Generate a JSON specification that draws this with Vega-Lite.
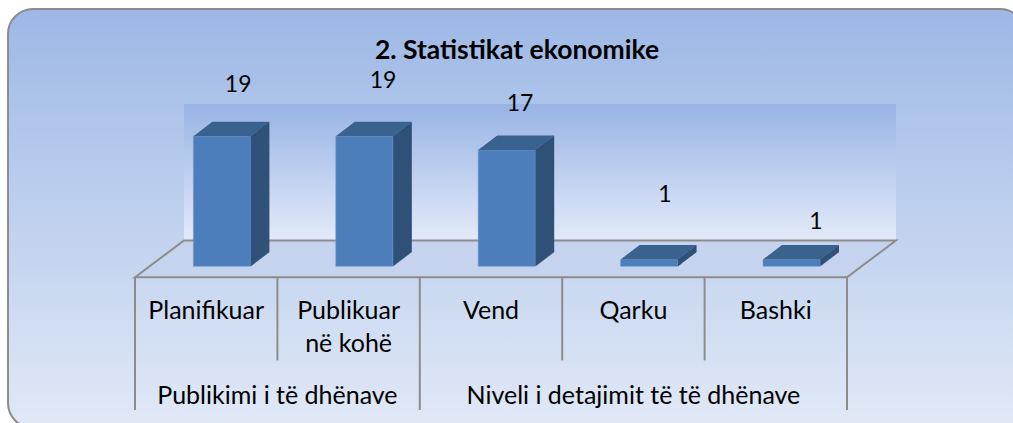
{"$schema":"https://vega.github.io/schema/vega-lite/v6.json","width":1017,"height":419,"padding":{"left":8,"top":9,"right":-12,"bottom":-5},"autosize":"none","background":"white","title":{"text":"2. Statistikat ekonomike","anchor":"middle","offset":-55,"dx":0.5,"font":"Lato","fontSize":26.5,"fontWeight":"bold","color":"#000000"},"view":{"cornerRadius":25,"stroke":"#8c8c8c","strokeWidth":2,"fill":{"gradient":"linear","x1":0,"y1":0,"x2":0,"y2":1,"stops":[{"offset":0,"color":"#9db8e6"},{"offset":1,"color":"#e1e9f6"}]}},"datasets":{"bars":[{"cat":"Planifikuar","value":19,"group":"Publikimi i të dhënave"},{"cat":"Publikuar\nnë kohë","value":19,"group":"Publikimi i të dhënave"},{"cat":"Vend","value":17,"group":"Niveli  i detajimit të të dhënave"},{"cat":"Qarku","value":1,"group":"Niveli  i detajimit të të dhënave"},{"cat":"Bashki","value":1,"group":"Niveli  i detajimit të të dhënave"}]},"data":{"name":"bars"},"encoding":{"x":{"field":"cat","type":"nominal","sort":null,"axis":null,"scale":{"type":"band","domain":["Planifikuar","Publikuar\nnë kohë","Vend","Qarku","Bashki"],"range":[127,839],"paddingInner":0,"paddingOuter":0}},"y":{"field":"value","type":"quantitative","axis":null,"scale":{"domain":[0,20],"range":[257.3,120.5],"nice":false,"zero":false}}},"layer":[
{"transform":[{"filter":"datum.cat==='Planifikuar'"}],"mark":{"type":"point","filled":true,"opacity":1,"size":4,"strokeWidth":0,"xOffset":49,"yOffset":-25.7,"shape":"M0,0 L0,-136.5 L712,-136.5 L712,0 Z","fill":{"gradient":"linear","x1":0,"y1":0,"x2":0,"y2":1,"stops":[{"offset":0,"color":"#98b4e5"},{"offset":1,"color":"#e3eaf8"}]}},"encoding":{"x":{"field":"cat","type":"nominal","bandPosition":0},"y":{"datum":0}}},
{"transform":[{"filter":"datum.cat==='Planifikuar'"}],"mark":{"type":"point","filled":true,"opacity":1,"size":4,"stroke":"#8c8c8c","strokeWidth":2,"fill":"#c6d3ee","shape":"M0,0 L49,-36.8 L761,-36.8 L712,0 Z"},"encoding":{"x":{"field":"cat","type":"nominal","bandPosition":0},"y":{"datum":-1.6}}},
{"transform":[{"filter":"datum.cat==='Publikuar\\nnë kohë'||datum.cat==='Qarku'||datum.cat==='Bashki'"}],"mark":{"type":"rule","stroke":"#8c8c8c","strokeWidth":2},"encoding":{"x":{"field":"cat","type":"nominal","bandPosition":0},"y":{"datum":-1.6},"y2":{"datum":-13.75}}},
{"transform":[{"filter":"datum.cat==='Planifikuar'||datum.cat==='Vend'"}],"mark":{"type":"rule","stroke":"#8c8c8c","strokeWidth":2},"encoding":{"x":{"field":"cat","type":"nominal","bandPosition":0},"y":{"datum":-1.6},"y2":{"datum":-21}}},
{"transform":[{"filter":"datum.cat==='Bashki'"}],"mark":{"type":"rule","stroke":"#8c8c8c","strokeWidth":2},"encoding":{"x":{"field":"cat","type":"nominal","bandPosition":1},"y":{"datum":-1.6},"y2":{"datum":-21}}},
{"encoding":{"y2":{"datum":0}},"layer":[
{"mark":{"type":"bar","width":1.8,"color":"#305278","xOffset":44.7,"yOffset":-0.38,"y2Offset":-0.38}},
{"mark":{"type":"bar","width":1.8,"color":"#305278","xOffset":45.7,"yOffset":-1.14,"y2Offset":-1.14}},
{"mark":{"type":"bar","width":1.8,"color":"#305278","xOffset":46.7,"yOffset":-1.91,"y2Offset":-1.91}},
{"mark":{"type":"bar","width":1.8,"color":"#305278","xOffset":47.7,"yOffset":-2.67,"y2Offset":-2.67}},
{"mark":{"type":"bar","width":1.8,"color":"#305278","xOffset":48.7,"yOffset":-3.43,"y2Offset":-3.43}},
{"mark":{"type":"bar","width":1.8,"color":"#305278","xOffset":49.7,"yOffset":-4.2,"y2Offset":-4.2}},
{"mark":{"type":"bar","width":1.8,"color":"#305278","xOffset":50.7,"yOffset":-4.96,"y2Offset":-4.96}},
{"mark":{"type":"bar","width":1.8,"color":"#305278","xOffset":51.7,"yOffset":-5.72,"y2Offset":-5.72}},
{"mark":{"type":"bar","width":1.8,"color":"#305278","xOffset":52.7,"yOffset":-6.49,"y2Offset":-6.49}},
{"mark":{"type":"bar","width":1.8,"color":"#305278","xOffset":53.7,"yOffset":-7.25,"y2Offset":-7.25}},
{"mark":{"type":"bar","width":1.8,"color":"#305278","xOffset":54.7,"yOffset":-8.01,"y2Offset":-8.01}},
{"mark":{"type":"bar","width":1.8,"color":"#305278","xOffset":55.7,"yOffset":-8.78,"y2Offset":-8.78}},
{"mark":{"type":"bar","width":1.8,"color":"#305278","xOffset":56.7,"yOffset":-9.54,"y2Offset":-9.54}},
{"mark":{"type":"bar","width":1.8,"color":"#305278","xOffset":57.7,"yOffset":-10.3,"y2Offset":-10.3}},
{"mark":{"type":"bar","width":1.8,"color":"#305278","xOffset":58.7,"yOffset":-11.07,"y2Offset":-11.07}},
{"mark":{"type":"bar","width":1.8,"color":"#305278","xOffset":59.7,"yOffset":-11.83,"y2Offset":-11.83}},
{"mark":{"type":"bar","width":1.8,"color":"#305278","xOffset":60.7,"yOffset":-12.59,"y2Offset":-12.59}},
{"mark":{"type":"bar","width":1.8,"color":"#305278","xOffset":61.7,"yOffset":-13.36,"y2Offset":-13.36}},
{"mark":{"type":"bar","width":1.4,"color":"#305278","xOffset":62.5,"yOffset":-14.12,"y2Offset":-14.12}},
{"mark":{"type":"bar","width":57,"color":"#4c7ebb","xOffset":15.7,"stroke":"#6f97cb","strokeWidth":0.6}}
]},
{"mark":{"type":"point","filled":true,"opacity":1,"size":4,"strokeWidth":0,"fill":"#3a628f","xOffset":15.7,"shape":"M-28.5,0 L-9.5,-14.5 L47.5,-14.5 L28.5,0 Z"}},
{"transform":[{"filter":"datum.cat==='Planifikuar'"}],"mark":{"type":"text","font":"Lato","fontSize":23,"color":"#000000","dx":32,"dy":-51.5},"encoding":{"text":{"field":"value","type":"quantitative"}}},
{"transform":[{"filter":"datum.cat==='Publikuar\\nnë kohë'"}],"mark":{"type":"text","font":"Lato","fontSize":23,"color":"#000000","dx":34.4,"dy":-55.5},"encoding":{"text":{"field":"value","type":"quantitative"}}},
{"transform":[{"filter":"datum.cat==='Vend'"}],"mark":{"type":"text","font":"Lato","fontSize":23,"color":"#000000","dx":29,"dy":-46.5},"encoding":{"text":{"field":"value","type":"quantitative"}}},
{"transform":[{"filter":"datum.cat==='Qarku'"}],"mark":{"type":"text","font":"Lato","fontSize":23,"color":"#000000","dx":31.6,"dy":-64.5},"encoding":{"text":{"field":"value","type":"quantitative"}}},
{"transform":[{"filter":"datum.cat==='Bashki'"}],"mark":{"type":"text","font":"Lato","fontSize":23,"color":"#000000","dx":40,"dy":-37.5},"encoding":{"text":{"field":"value","type":"quantitative"}}},
{"mark":{"type":"text","font":"Lato","fontSize":25,"color":"#000000","baseline":"alphabetic","lineBreak":"\n","lineHeight":33},"encoding":{"y":{"datum":-7.7},"text":{"field":"cat","type":"nominal"}}},
{"transform":[{"filter":"datum.cat==='Publikuar\\nnë kohë'"}],"mark":{"type":"text","font":"Lato","fontSize":25,"color":"#000000","baseline":"alphabetic"},"encoding":{"x":{"field":"cat","type":"nominal","bandPosition":0},"y":{"datum":-20.2},"text":{"field":"group","type":"nominal"}}},
{"transform":[{"filter":"datum.cat==='Qarku'"}],"mark":{"type":"text","font":"Lato","fontSize":25,"color":"#000000","baseline":"alphabetic"},"encoding":{"x":{"field":"cat","type":"nominal","bandPosition":0.5},"y":{"datum":-20.2},"text":{"field":"group","type":"nominal"}}}
]}
